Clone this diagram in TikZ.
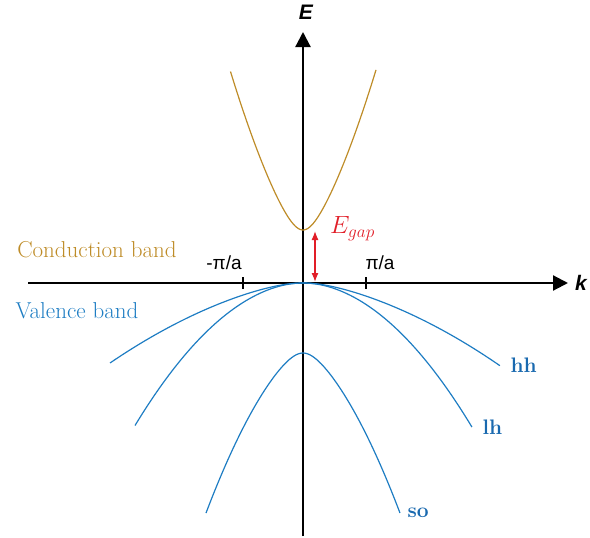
\documentclass[tikz,border=0pt]{standalone}
\usepackage{fontspec}
\newfontfamily\axisfont{Liberation Sans}
\usetikzlibrary{arrows.meta}
\definecolor{condcol}{RGB}{190,140,40}
\definecolor{valcol}{RGB}{30,125,195}
\definecolor{lblcol}{RGB}{25,105,175}
\definecolor{gapcol}{RGB}{225,30,40}
\begin{document}
\begin{tikzpicture}[x=1pt,y=-1pt,
  axis/.style={line width=2.2pt,-{Triangle[length=15pt,width=15pt]}},
  tick/.style={line width=2pt},
  cband/.style={condcol,line width=1.2pt},
  vband/.style={valcol,line width=1.2pt},
  bandlbl/.style={lblcol,font=\fontsize{21}{23}\selectfont\bfseries},
  txtlbl/.style={font=\fontsize{23}{25}\selectfont},
  zonelbl/.style={font=\axisfont\fontsize{19}{21}\selectfont},
  axlbl/.style={font=\axisfont\fontsize{21}{23}\selectfont\bfseries\itshape}]
\useasboundingbox (0,0) rectangle (590,538);
% axes
\coordinate (kl) at (28,283);
\coordinate (kr) at (568,283);
\coordinate (eb) at (303,536);
\coordinate (et) at (303,32);
\draw[axis] (kl) -- (kr);
\draw[axis] (eb) -- (et);
\node[axlbl] (elbl) at (306,12) {E};
\node[axlbl,anchor=west,inner sep=1pt] (klbl) at (574,283) {k};
% zone edges
\draw[tick] (243,277) -- (243,289);
\draw[tick] (366,277) -- (366,289);
\node[zonelbl] (mpa) at (224,263) {-π/a};
\node[zonelbl] (ppa) at (380,263) {π/a};
% conduction band (x in units of 100 px)
\draw[cband] plot[domain=-0.725:0.73,samples=80]
  ({303+100*\x},{230-1.72*(100*sqrt(\x*\x+0.0225)-15)-108.3*\x*\x});
\node[condcol,txtlbl] (cb) at (97,250) {Conduction band};
% valence bands: hh, lh, so
\draw[vband] plot[domain=-1.93:1.97,samples=90]
  ({303+100*\x},{283+0.2054*(100*sqrt(\x*\x+0.09)-30)+12.36*\x*\x});
\draw[vband] plot[domain=-1.68:1.69,samples=90]
  ({303+100*\x},{283+0.07*(100*sqrt(\x*\x+0.09)-30)+47*\x*\x});
\draw[vband] plot[domain=-0.97:0.97,samples=80]
  ({303+100*\x},{353+0.921*(100*sqrt(\x*\x+0.0225)-15)+88.7*\x*\x});
\node[valcol,txtlbl] (vb) at (77,311) {Valence band};
\node[bandlbl,anchor=west] (hh) at (507,365) {hh};
\node[bandlbl,anchor=west] (lh) at (479,427) {lh};
\node[bandlbl,anchor=west] (so) at (404,513) {so};
% band gap
\coordinate (gt) at (315,231);
\coordinate (gb) at (315,282);
\draw[gapcol,line width=1.3pt,{Latex[length=9pt,width=7pt]}-{Latex[length=9pt,width=7pt]}] (gt) -- (gb);
\node[gapcol,font=\fontsize{26}{28}\selectfont,anchor=west,inner sep=0pt] (eg) at (330,229) {$E_{gap}$};
\end{tikzpicture}
\end{document}
